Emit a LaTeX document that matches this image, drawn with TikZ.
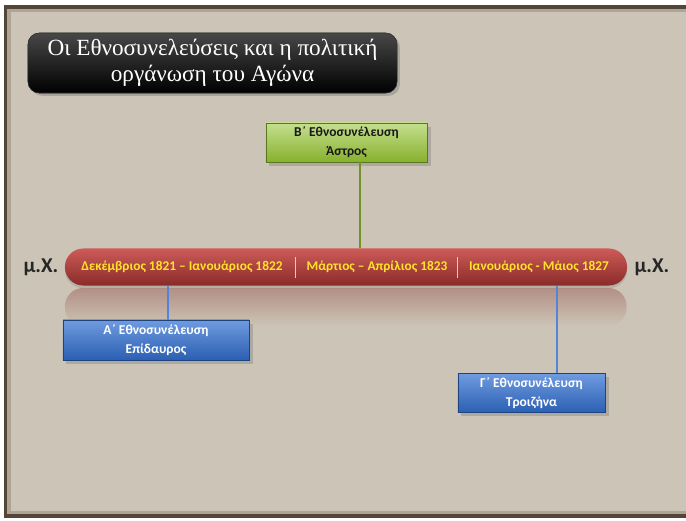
\documentclass[tikz,border=0pt]{standalone}
\usepackage{fontspec}
\setmainfont{Liberation Serif}
\newfontfamily\calibri{Carlito}
\usetikzlibrary{positioning, shadows, fadings}

\definecolor{parchment}{RGB}{204,197,183}
\definecolor{frame}{RGB}{84,70,55}
\definecolor{barred}{RGB}{196,62,58}
\definecolor{datecol}{RGB}{255,228,40}
\definecolor{asmgreen}{RGB}{150,196,50}
\definecolor{asmblue}{RGB}{50,112,210}

\begin{document}
\begin{tikzpicture}[x=0.025cm, y=-0.025cm,
    every node/.style={inner sep=0pt, align=center},
    heading/.style={fill=black, top color=black!72, bottom color=black, draw=black!80,
      rounded corners=8pt, text=white, font=\fontsize{16.5}{18.5}\selectfont,
      minimum width=9.225cm, minimum height=1.5cm,
      drop shadow={opacity=0.45, shadow xshift=2pt, shadow yshift=-2pt}},
    assembly/.style={font=\calibri\bfseries\fontsize{9.6}{13.5}\selectfont,
      drop shadow={opacity=0.4, shadow xshift=2.5pt, shadow yshift=-2.5pt}},
    green assembly/.style={assembly, top color=asmgreen!55!white, bottom color=asmgreen!90!black,
      draw=asmgreen!60!black, text=black!90},
    blue assembly/.style={assembly, top color=asmblue!70!white, bottom color=asmblue!85!black,
      draw=asmblue!60!black, text=white},
    period/.style={font=\calibri\bfseries\fontsize{9.5}{11}\selectfont, text=datecol},
    era/.style={font=\calibri\bfseries\fontsize{15}{18}\selectfont, text=black!85},
    tick/.style={line width=1.5pt}]

  % parchment and frame
  \useasboundingbox (0,0) rectangle (686,521);
  \fill[white] (0,0) rectangle (686,521);
  \fill[parchment] (4,5) rectangle (686,518);
  \draw[frame!25!parchment, line width=3pt] (9,10) rectangle (690,513);
  \draw[frame, line width=2.5pt] (5.5,7) rectangle (690,516);

  \node[heading] (title) at (212.5,63)
    {Οι Εθνοσυνελεύσεις και η πολιτική\\οργάνωση του Αγώνα};

  % time line
  \fill[barred!70!black, opacity=0.35, path fading=south, rounded corners=13pt]
    (65,288) rectangle (627,326);
  \node[top color=barred!85!white, middle color=barred, bottom color=barred!70!black,
    rounded corners=13pt, minimum width=14.05cm, minimum height=0.925cm,
    drop shadow={opacity=0.3, shadow xshift=0pt, shadow yshift=-2pt}] (bar) at (346,267) {};
  \node[period] (p1) at (182,267) {Δεκέμβριος 1821 – Ιανουάριος 1822};
  \node[period] (p2) at (377,267) {Μάρτιος – Απρίλιος 1823};
  \node[period] (p3) at (539,267) {Ιανουάριος - Μάιος 1827};
  \draw[white!70!barred, line width=0.6pt] (295,257) -- (295,278);
  \draw[white!70!barred, line width=0.6pt] (457,257) -- (457,278);

  \node[era] (mxl) at (41,267) {μ.Χ.};
  \node[era] (mxr) at (652,267) {μ.Χ.};

  % assemblies
  \node[green assembly, minimum width=4.025cm, minimum height=0.975cm] (beta) at (346.5,142.5)
    {Β΄ Εθνοσυνέλευση\\Άστρος};
  \node[blue assembly, minimum width=4.65cm, minimum height=1.0cm] (alpha) at (156,340)
    {Α΄ Εθνοσυνέλευση\\Επίδαυρος};
  \node[blue assembly, minimum width=3.675cm, minimum height=0.975cm] (gamma) at (531.5,393)
    {Γ΄ Εθνοσυνέλευση\\Τροιζήνα};

  \coordinate (tb) at (360,248);
  \coordinate (ta) at (168,286);
  \coordinate (tg) at (557,286);
  \draw[tick, asmgreen!75!black] (tb |- beta.south) -- (tb);
  \draw[tick, asmblue!85!white] (ta) -- (ta |- alpha.north);
  \draw[tick, asmblue!85!white] (tg) -- (tg |- gamma.north);
\end{tikzpicture}
\end{document}
